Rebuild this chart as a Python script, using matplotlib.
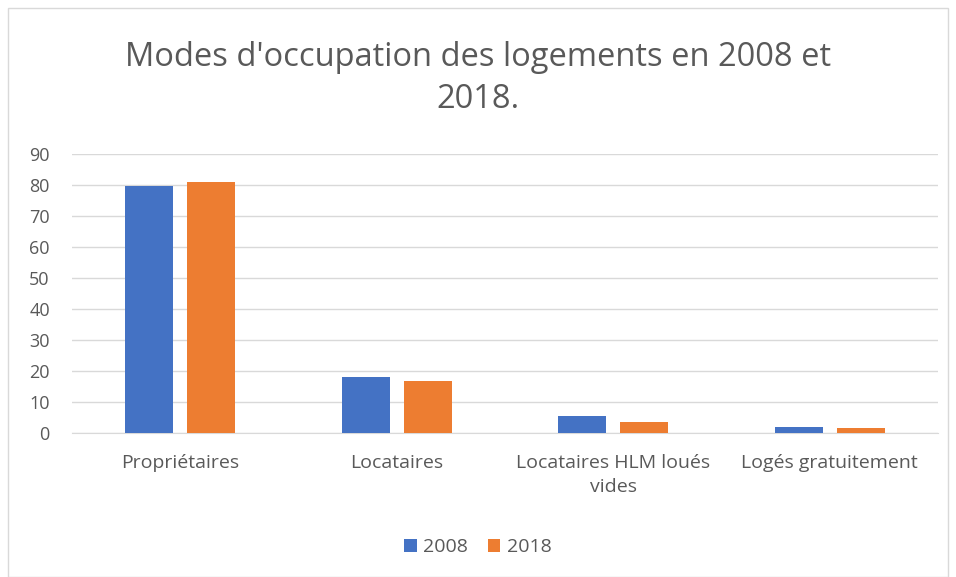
import matplotlib
matplotlib.use("Agg")
import matplotlib.pyplot as plt
import numpy as np
from matplotlib.patches import Rectangle

categories = ["Propriétaires", "Locataires", "Locataires HLM loués\nvides", "Logés gratuitement"]
series_names = ["2008", "2018"]
values_2008 = [79.6, 18.2, 5.4, 2.0]
values_2018 = [81.1, 16.8, 3.4, 1.7]
yticks = [0, 10, 20, 30, 40, 50, 60, 70, 80, 90]

plt.rcParams['font.family'] = ['Open Sans', 'DejaVu Sans']
W, H = 956, 577
fig = plt.figure(figsize=(W/100, H/100), dpi=100)
fig.patches.append(Rectangle((8/W, 0), (948-8)/W, (577-8)/H, transform=fig.transFigure,
                             fill=False, edgecolor='#d9d9d9', linewidth=1))
ax = fig.add_axes([72/W, 1-433/H, (938-72)/W, (433-154)/H])
x = np.arange(len(categories))
w = 0.222
off = 0.143
ax.bar(x - off, values_2008, w, color='#4472c4', label=series_names[0], zorder=3)
ax.bar(x + off, values_2018, w, color='#ed7d31', label=series_names[1], zorder=3)
ax.set_xlim(-0.5, 3.5)
ax.set_ylim(0, 90)
ax.set_yticks(yticks)
ax.yaxis.grid(True, color='#d9d9d9', linewidth=1, zorder=0)
for s in ['top', 'right', 'left']:
    ax.spines[s].set_visible(False)
ax.spines['bottom'].set_color('#d9d9d9')
ax.tick_params(axis='both', length=0, colors='#595959')
ax.tick_params(axis='y', labelsize=13, pad=16)
ax.tick_params(axis='x', labelsize=14, pad=15)
ax.set_xticks(x)
ax.set_xticklabels(categories, linespacing=1.45)
fig.text(0.5, 1-57/H, "Modes d'occupation des logements en 2008 et", ha='center', va='center',
         fontsize=23.5, color='#595959')
fig.text(0.5, 1-99/H, "2018.", ha='center', va='center', fontsize=23.5, color='#595959')
fig.legend(loc='center', bbox_to_anchor=(0.5, 1-547/H), ncol=2, frameon=False,
           fontsize=14, labelcolor='#595959', handlelength=0.65, handleheight=0.65,
           columnspacing=1.0, handletextpad=0.35)
fig.savefig("out.png", dpi=100)
